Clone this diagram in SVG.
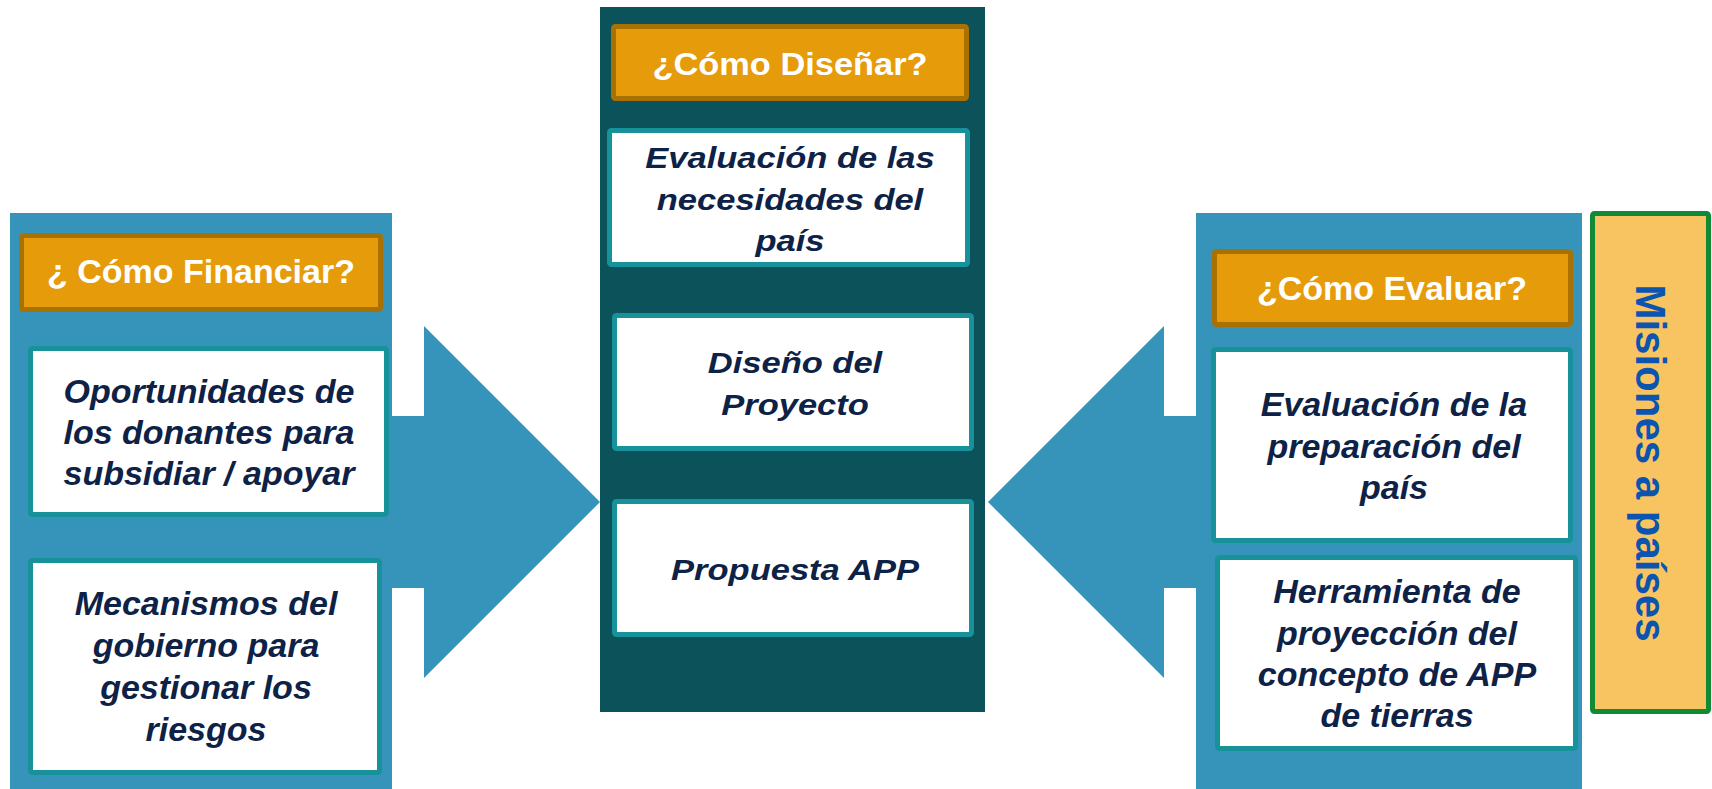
<svg xmlns="http://www.w3.org/2000/svg" width="1712" height="789" viewBox="0 0 1712 789">
<style>
.panel{fill:#3694BB}
.dark{fill:#0C525A}
.head{fill:#E69B0B;stroke:#A97102;stroke-width:5}
.box{fill:#FFFFFF;stroke:#17929B;stroke-width:5}
.arrow{fill:#3694BB}
.ht{font-family:"Liberation Sans",Arial,sans-serif;font-weight:bold;font-size:34px;fill:#FFFFFF;text-anchor:middle}
.bt{font-family:"Liberation Sans",Arial,sans-serif;font-weight:bold;font-style:italic;font-size:34px;fill:#0D2246;text-anchor:middle}
.ct{font-family:"Liberation Sans",Arial,sans-serif;font-weight:bold;font-style:italic;font-size:30px;fill:#0D2246;text-anchor:middle}
.mis{fill:#F8C462;stroke:#128A35;stroke-width:5}
.mt{font-family:"Liberation Sans",Arial,sans-serif;font-weight:bold;font-size:42px;fill:#0B55B0;text-anchor:middle}
</style>
<rect width="1712" height="789" fill="#FFFFFF"/>

<g id="panel-financiar">
  <rect class="panel" x="10" y="213" width="382" height="576"/>
  <rect class="head" x="21.5" y="235.5" width="359" height="74" rx="2"/>
  <text class="ht" x="201" y="283">¿ Cómo Financiar?</text>
</g>
<g id="node-oportunidades">
  <rect class="box" x="30.5" y="348.5" width="356" height="166" rx="2"/>
  <text class="bt" x="209" y="403">Oportunidades de</text>
  <text class="bt" x="209" y="444">los donantes para</text>
  <text class="bt" x="209" y="485">subsidiar / apoyar</text>
</g>
<g id="node-mecanismos">
  <rect class="box" x="30.5" y="560.5" width="349" height="212" rx="2"/>
  <text class="bt" x="206" y="615">Mecanismos del</text>
  <text class="bt" x="206" y="657">gobierno para</text>
  <text class="bt" x="206" y="699">gestionar los</text>
  <text class="bt" x="206" y="741">riesgos</text>
</g>

<g id="panel-disenar">
  <rect class="dark" x="600" y="7" width="385" height="705"/>
  <rect class="head" x="613.5" y="26.5" width="353" height="72" rx="2"/>
  <text class="ht" x="790" y="75" font-size="32" textLength="275" lengthAdjust="spacingAndGlyphs" style="font-size:32px">¿Cómo Diseñar?</text>
</g>
<g id="node-evaluacion-necesidades">
  <rect class="box" x="609.5" y="130.5" width="358" height="134" rx="2"/>
  <g transform="translate(790,0) scale(1.15,1)">
    <text class="ct" x="0" y="168">Evaluación de las</text>
    <text class="ct" x="0" y="210">necesidades del</text>
    <text class="ct" x="0" y="251">país</text>
  </g>
</g>
<g id="node-diseno">
  <rect class="box" x="614.5" y="315.5" width="357" height="133" rx="2"/>
  <g transform="translate(795,0) scale(1.15,1)">
    <text class="ct" x="0" y="373">Diseño del</text>
    <text class="ct" x="0" y="415">Proyecto</text>
  </g>
</g>
<g id="node-propuesta">
  <rect class="box" x="614.5" y="501.5" width="357" height="133" rx="2"/>
  <g transform="translate(795,0) scale(1.15,1)">
    <text class="ct" x="0" y="580">Propuesta APP</text>
  </g>
</g>

<g id="panel-evaluar">
  <rect class="panel" x="1196" y="213" width="386" height="576"/>
  <rect class="head" x="1214.5" y="251.5" width="356" height="73" rx="2"/>
  <text class="ht" x="1392" y="300">¿Cómo Evaluar?</text>
</g>
<g id="node-evaluacion-preparacion">
  <rect class="box" x="1213.5" y="349.5" width="357" height="191" rx="2"/>
  <text class="bt" x="1394" y="416">Evaluación de la</text>
  <text class="bt" x="1394" y="458">preparación del</text>
  <text class="bt" x="1394" y="499">país</text>
</g>
<g id="node-herramienta">
  <rect class="box" x="1217.5" y="557.5" width="358" height="191" rx="2"/>
  <text class="bt" x="1397" y="603">Herramienta de</text>
  <text class="bt" x="1397" y="645">proyección del</text>
  <text class="bt" x="1397" y="686">concepto de APP</text>
  <text class="bt" x="1397" y="727">de tierras</text>
</g>

<g id="node-misiones">
  <rect class="mis" x="1592.5" y="213.5" width="116" height="498" rx="2"/>
  <text class="mt" transform="translate(1636,463) rotate(90)" x="0" y="0">Misiones a países</text>
</g>

<g id="connectors">
  <polygon class="arrow" points="391,416 424,416 424,326 600,502 424,678 424,588 391,588"/>
  <polygon class="arrow" points="1197,416 1164,416 1164,326 988,502 1164,678 1164,588 1197,588"/>
</g>
</svg>
